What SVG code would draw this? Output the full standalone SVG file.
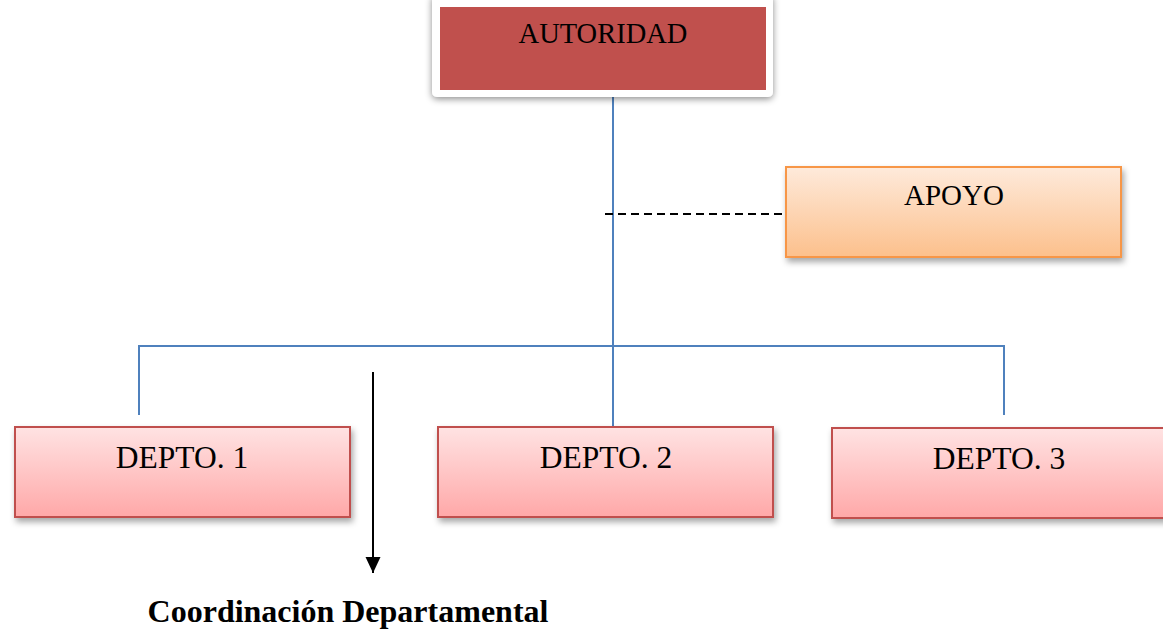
<svg xmlns="http://www.w3.org/2000/svg" width="1163" height="633" viewBox="0 0 1163 633">
<style>
.lbl{font-family:"Liberation Serif","Times New Roman",serif;font-size:31.5px;fill:#000;text-anchor:middle}
.dep{stroke:#C0504D;stroke-width:2;fill:url(#gPink)}
.conn{stroke:#4F81BD;stroke-width:2;fill:none}
</style>
<defs>
<linearGradient id="gPink" x1="0" y1="0" x2="0" y2="1">
<stop offset="0" stop-color="#FFE3E3"/><stop offset="1" stop-color="#FFA8A8"/>
</linearGradient>
<linearGradient id="gOrange" x1="0" y1="0" x2="0" y2="1">
<stop offset="0" stop-color="#FEEADB"/><stop offset="1" stop-color="#FCC08C"/>
</linearGradient>
<filter id="sh" x="-10%" y="-20%" width="125%" height="150%">
<feDropShadow dx="2" dy="4" stdDeviation="3" flood-color="#000" flood-opacity="0.35"/>
</filter>
<filter id="sh2" x="-10%" y="-20%" width="125%" height="150%">
<feDropShadow dx="0" dy="2" stdDeviation="3.5" flood-color="#000" flood-opacity="0.45"/>
</filter>
<marker id="arr" markerWidth="16" markerHeight="16" refX="16" refY="7.5" orient="auto" markerUnits="userSpaceOnUse">
<path d="M0,0 L16,7.5 L0,15 Z" fill="#000"/>
</marker>
</defs>
<g id="connectors">
<line class="conn" x1="613" y1="96" x2="613" y2="427"/>
<polyline class="conn" points="139,415 139,346 1004,346 1004,415"/>
<line x1="605" y1="214" x2="785" y2="214" stroke="#000" stroke-width="2" stroke-dasharray="8,5"/>
<line x1="373" y1="372" x2="373" y2="573" stroke="#000" stroke-width="2" marker-end="url(#arr)"/>
</g>
<g id="autoridad">
<rect x="432" y="-6" width="341" height="103" rx="5" fill="#fff" filter="url(#sh2)"/>
<rect x="440" y="7" width="326" height="83" fill="#C0504D"/>
<text class="lbl" x="603" y="43" style="font-size:28.5px">AUTORIDAD</text>
</g>
<g id="apoyo">
<rect x="786" y="167" width="335" height="90" fill="url(#gOrange)" stroke="#F79646" stroke-width="2" filter="url(#sh)"/>
<text class="lbl" x="954" y="205" style="font-size:29px">APOYO</text>
</g>
<g id="depto1">
<rect class="dep" x="15" y="427" width="335" height="90" filter="url(#sh)"/>
<text class="lbl" x="182" y="468">DEPTO. 1</text>
</g>
<g id="depto2">
<rect class="dep" x="438" y="427" width="335" height="90" filter="url(#sh)"/>
<text class="lbl" x="606" y="468">DEPTO. 2</text>
</g>
<g id="depto3">
<rect class="dep" x="832" y="428" width="336" height="90" filter="url(#sh)"/>
<text class="lbl" x="999" y="469">DEPTO. 3</text>
</g>
<g id="caption">
<text x="348" y="622" style="font-family:'Liberation Serif','Times New Roman',serif;font-size:32px;font-weight:bold;text-anchor:middle">Coordinación Departamental</text>
</g>
</svg>
